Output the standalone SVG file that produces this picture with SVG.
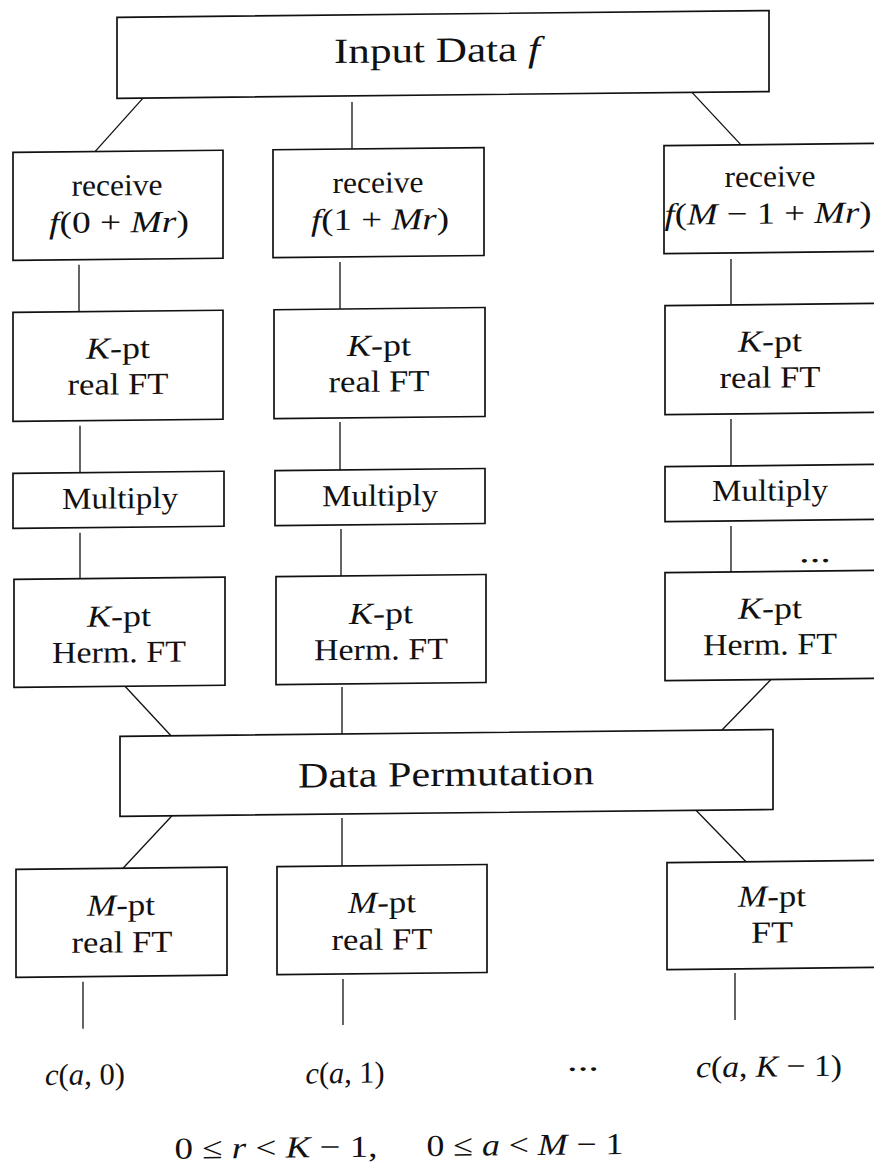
<svg xmlns="http://www.w3.org/2000/svg" width="874" height="1167" viewBox="0 0 874 1167">
  <style>
    .box { fill: #ffffff; stroke: #111111; stroke-width: 1.7; }
    .wire { stroke: #111111; stroke-width: 1.3; fill: none; }
    text { font-family: "Liberation Serif", "Times New Roman", serif; fill: #111111; text-anchor: middle; }
    .lg { font-size: 35.5px; }
    .sm { font-size: 30.5px; }
    .i { font-style: italic; }
  </style>
  <rect x="0" y="0" width="874" height="1167" fill="#ffffff"/>
  <!-- the whole page is scanned with a slight tilt -->
  <g transform="translate(0,4.59) skewY(-0.6)">
    <g id="connectors">
      <line class="wire" x1="143" y1="95" x2="95" y2="148"/>
      <line class="wire" x1="352" y1="101" x2="352" y2="148"/>
      <line class="wire" x1="692" y1="95" x2="741" y2="148"/>

      <line class="wire" x1="79" y1="261" x2="79" y2="308"/>
      <line class="wire" x1="340" y1="261" x2="340" y2="308"/>
      <line class="wire" x1="731" y1="262" x2="731" y2="308"/>

      <line class="wire" x1="80" y1="422" x2="80" y2="469"/>
      <line class="wire" x1="340" y1="421" x2="340" y2="469"/>
      <line class="wire" x1="731" y1="422" x2="731" y2="469"/>

      <line class="wire" x1="80" y1="529" x2="80" y2="575"/>
      <line class="wire" x1="341" y1="528" x2="341" y2="575"/>
      <line class="wire" x1="731" y1="529" x2="731" y2="575"/>

      <line class="wire" x1="125" y1="683" x2="171" y2="733"/>
      <line class="wire" x1="342" y1="686" x2="342" y2="733"/>
      <line class="wire" x1="771" y1="683" x2="722" y2="733"/>

      <line class="wire" x1="172" y1="813" x2="123" y2="865"/>
      <line class="wire" x1="342" y1="817" x2="342" y2="865"/>
      <line class="wire" x1="696" y1="813" x2="746" y2="865"/>

      <line class="wire" x1="83" y1="978" x2="83" y2="1025"/>
      <line class="wire" x1="343" y1="978" x2="343" y2="1024"/>
      <line class="wire" x1="735" y1="976" x2="735" y2="1023"/>
    </g>

    <g id="input">
      <rect class="box" x="117" y="14" width="652" height="81"/>
      <text class="lg" x="437" y="62" textLength="206" lengthAdjust="spacingAndGlyphs">Input Data <tspan class="i">f</tspan></text>
    </g>

    <g id="receive-0">
      <rect class="box" x="13" y="148" width="210" height="108"/>
      <text class="sm" x="117" y="192" textLength="91" lengthAdjust="spacingAndGlyphs">receive</text>
      <text class="sm" x="119" y="229" textLength="140" lengthAdjust="spacingAndGlyphs"><tspan class="i">f</tspan>(0 + <tspan class="i">Mr</tspan>)</text>
    </g>
    <g id="receive-1">
      <rect class="box" x="273" y="148" width="211" height="108"/>
      <text class="sm" x="378" y="192" textLength="91" lengthAdjust="spacingAndGlyphs">receive</text>
      <text class="sm" x="380" y="229" textLength="138" lengthAdjust="spacingAndGlyphs"><tspan class="i">f</tspan>(1 + <tspan class="i">Mr</tspan>)</text>
    </g>
    <g id="receive-last">
      <rect class="box" x="664" y="148" width="212" height="108"/>
      <text class="sm" x="770" y="190" textLength="91" lengthAdjust="spacingAndGlyphs">receive</text>
      <text class="sm" x="768" y="227" textLength="207" lengthAdjust="spacingAndGlyphs"><tspan class="i">f</tspan>(<tspan class="i">M</tspan> − 1 + <tspan class="i">Mr</tspan>)</text>
    </g>

    <g id="kpt-real-0">
      <rect class="box" x="13" y="308" width="210" height="109"/>
      <text class="sm" x="118" y="355" textLength="64" lengthAdjust="spacingAndGlyphs"><tspan class="i">K</tspan>-pt</text>
      <text class="sm" x="118" y="391" textLength="101" lengthAdjust="spacingAndGlyphs">real FT</text>
    </g>
    <g id="kpt-real-1">
      <rect class="box" x="274" y="308" width="211" height="109"/>
      <text class="sm" x="379" y="355" textLength="64" lengthAdjust="spacingAndGlyphs"><tspan class="i">K</tspan>-pt</text>
      <text class="sm" x="379" y="391" textLength="101" lengthAdjust="spacingAndGlyphs">real FT</text>
    </g>
    <g id="kpt-real-last">
      <rect class="box" x="665" y="308" width="211" height="109"/>
      <text class="sm" x="770" y="355" textLength="64" lengthAdjust="spacingAndGlyphs"><tspan class="i">K</tspan>-pt</text>
      <text class="sm" x="770" y="391" textLength="101" lengthAdjust="spacingAndGlyphs">real FT</text>
    </g>

    <g id="multiply-0">
      <rect class="box" x="13" y="469" width="211" height="55"/>
      <text class="sm" x="120" y="505" textLength="116" lengthAdjust="spacingAndGlyphs">Multiply</text>
    </g>
    <g id="multiply-1">
      <rect class="box" x="275" y="469" width="210" height="55"/>
      <text class="sm" x="380" y="505" textLength="116" lengthAdjust="spacingAndGlyphs">Multiply</text>
    </g>
    <g id="multiply-last">
      <rect class="box" x="665" y="469" width="211" height="55"/>
      <text class="sm" x="770" y="504" textLength="116" lengthAdjust="spacingAndGlyphs">Multiply</text>
      <text class="sm" x="815" y="566" textLength="32" lengthAdjust="spacingAndGlyphs">...</text>
    </g>

    <g id="kpt-herm-0">
      <rect class="box" x="14" y="575" width="211" height="108"/>
      <text class="sm" x="119" y="623" textLength="64" lengthAdjust="spacingAndGlyphs"><tspan class="i">K</tspan>-pt</text>
      <text class="sm" x="119" y="659" textLength="134" lengthAdjust="spacingAndGlyphs">Herm. FT</text>
    </g>
    <g id="kpt-herm-1">
      <rect class="box" x="276" y="575" width="210" height="108"/>
      <text class="sm" x="381" y="623" textLength="64" lengthAdjust="spacingAndGlyphs"><tspan class="i">K</tspan>-pt</text>
      <text class="sm" x="381" y="659" textLength="134" lengthAdjust="spacingAndGlyphs">Herm. FT</text>
    </g>
    <g id="kpt-herm-last">
      <rect class="box" x="665" y="575" width="211" height="108"/>
      <text class="sm" x="770" y="622" textLength="64" lengthAdjust="spacingAndGlyphs"><tspan class="i">K</tspan>-pt</text>
      <text class="sm" x="770" y="658" textLength="134" lengthAdjust="spacingAndGlyphs">Herm. FT</text>
    </g>

    <g id="permutation">
      <rect class="box" x="120" y="733" width="653" height="80"/>
      <text class="lg" x="446" y="786" textLength="296" lengthAdjust="spacingAndGlyphs">Data Permutation</text>
    </g>

    <g id="mpt-real-0">
      <rect class="box" x="16" y="865" width="211" height="108"/>
      <text class="sm" x="121" y="912" textLength="68" lengthAdjust="spacingAndGlyphs"><tspan class="i">M</tspan>-pt</text>
      <text class="sm" x="122" y="949" textLength="101" lengthAdjust="spacingAndGlyphs">real FT</text>
    </g>
    <g id="mpt-real-1">
      <rect class="box" x="277" y="865" width="210" height="108"/>
      <text class="sm" x="382" y="912" textLength="68" lengthAdjust="spacingAndGlyphs"><tspan class="i">M</tspan>-pt</text>
      <text class="sm" x="382" y="949" textLength="101" lengthAdjust="spacingAndGlyphs">real FT</text>
    </g>
    <g id="mpt-last">
      <rect class="box" x="667" y="865" width="209" height="107"/>
      <text class="sm" x="772" y="910" textLength="68" lengthAdjust="spacingAndGlyphs"><tspan class="i">M</tspan>-pt</text>
      <text class="sm" x="772" y="946" textLength="42" lengthAdjust="spacingAndGlyphs">FT</text>
    </g>

    <g id="outputs">
      <text class="sm" x="85" y="1081" textLength="80" lengthAdjust="spacingAndGlyphs"><tspan class="i">c</tspan>(<tspan class="i">a</tspan>, 0)</text>
      <text class="sm" x="345" y="1082" textLength="79" lengthAdjust="spacingAndGlyphs"><tspan class="i">c</tspan>(<tspan class="i">a</tspan>, 1)</text>
      <text class="sm" x="583" y="1072" textLength="32" lengthAdjust="spacingAndGlyphs">...</text>
      <text class="sm" x="769" y="1080" textLength="146" lengthAdjust="spacingAndGlyphs"><tspan class="i">c</tspan>(<tspan class="i">a</tspan>, <tspan class="i">K</tspan> − 1)</text>
    </g>

    <g id="ranges">
      <text class="sm" x="276" y="1156" textLength="203" lengthAdjust="spacingAndGlyphs">0 ≤ <tspan class="i">r</tspan> &lt; <tspan class="i">K</tspan> − 1,</text>
      <text class="sm" x="525" y="1156" textLength="197" lengthAdjust="spacingAndGlyphs">0 ≤ <tspan class="i">a</tspan> &lt; <tspan class="i">M</tspan> − 1</text>
    </g>
  </g>
</svg>
